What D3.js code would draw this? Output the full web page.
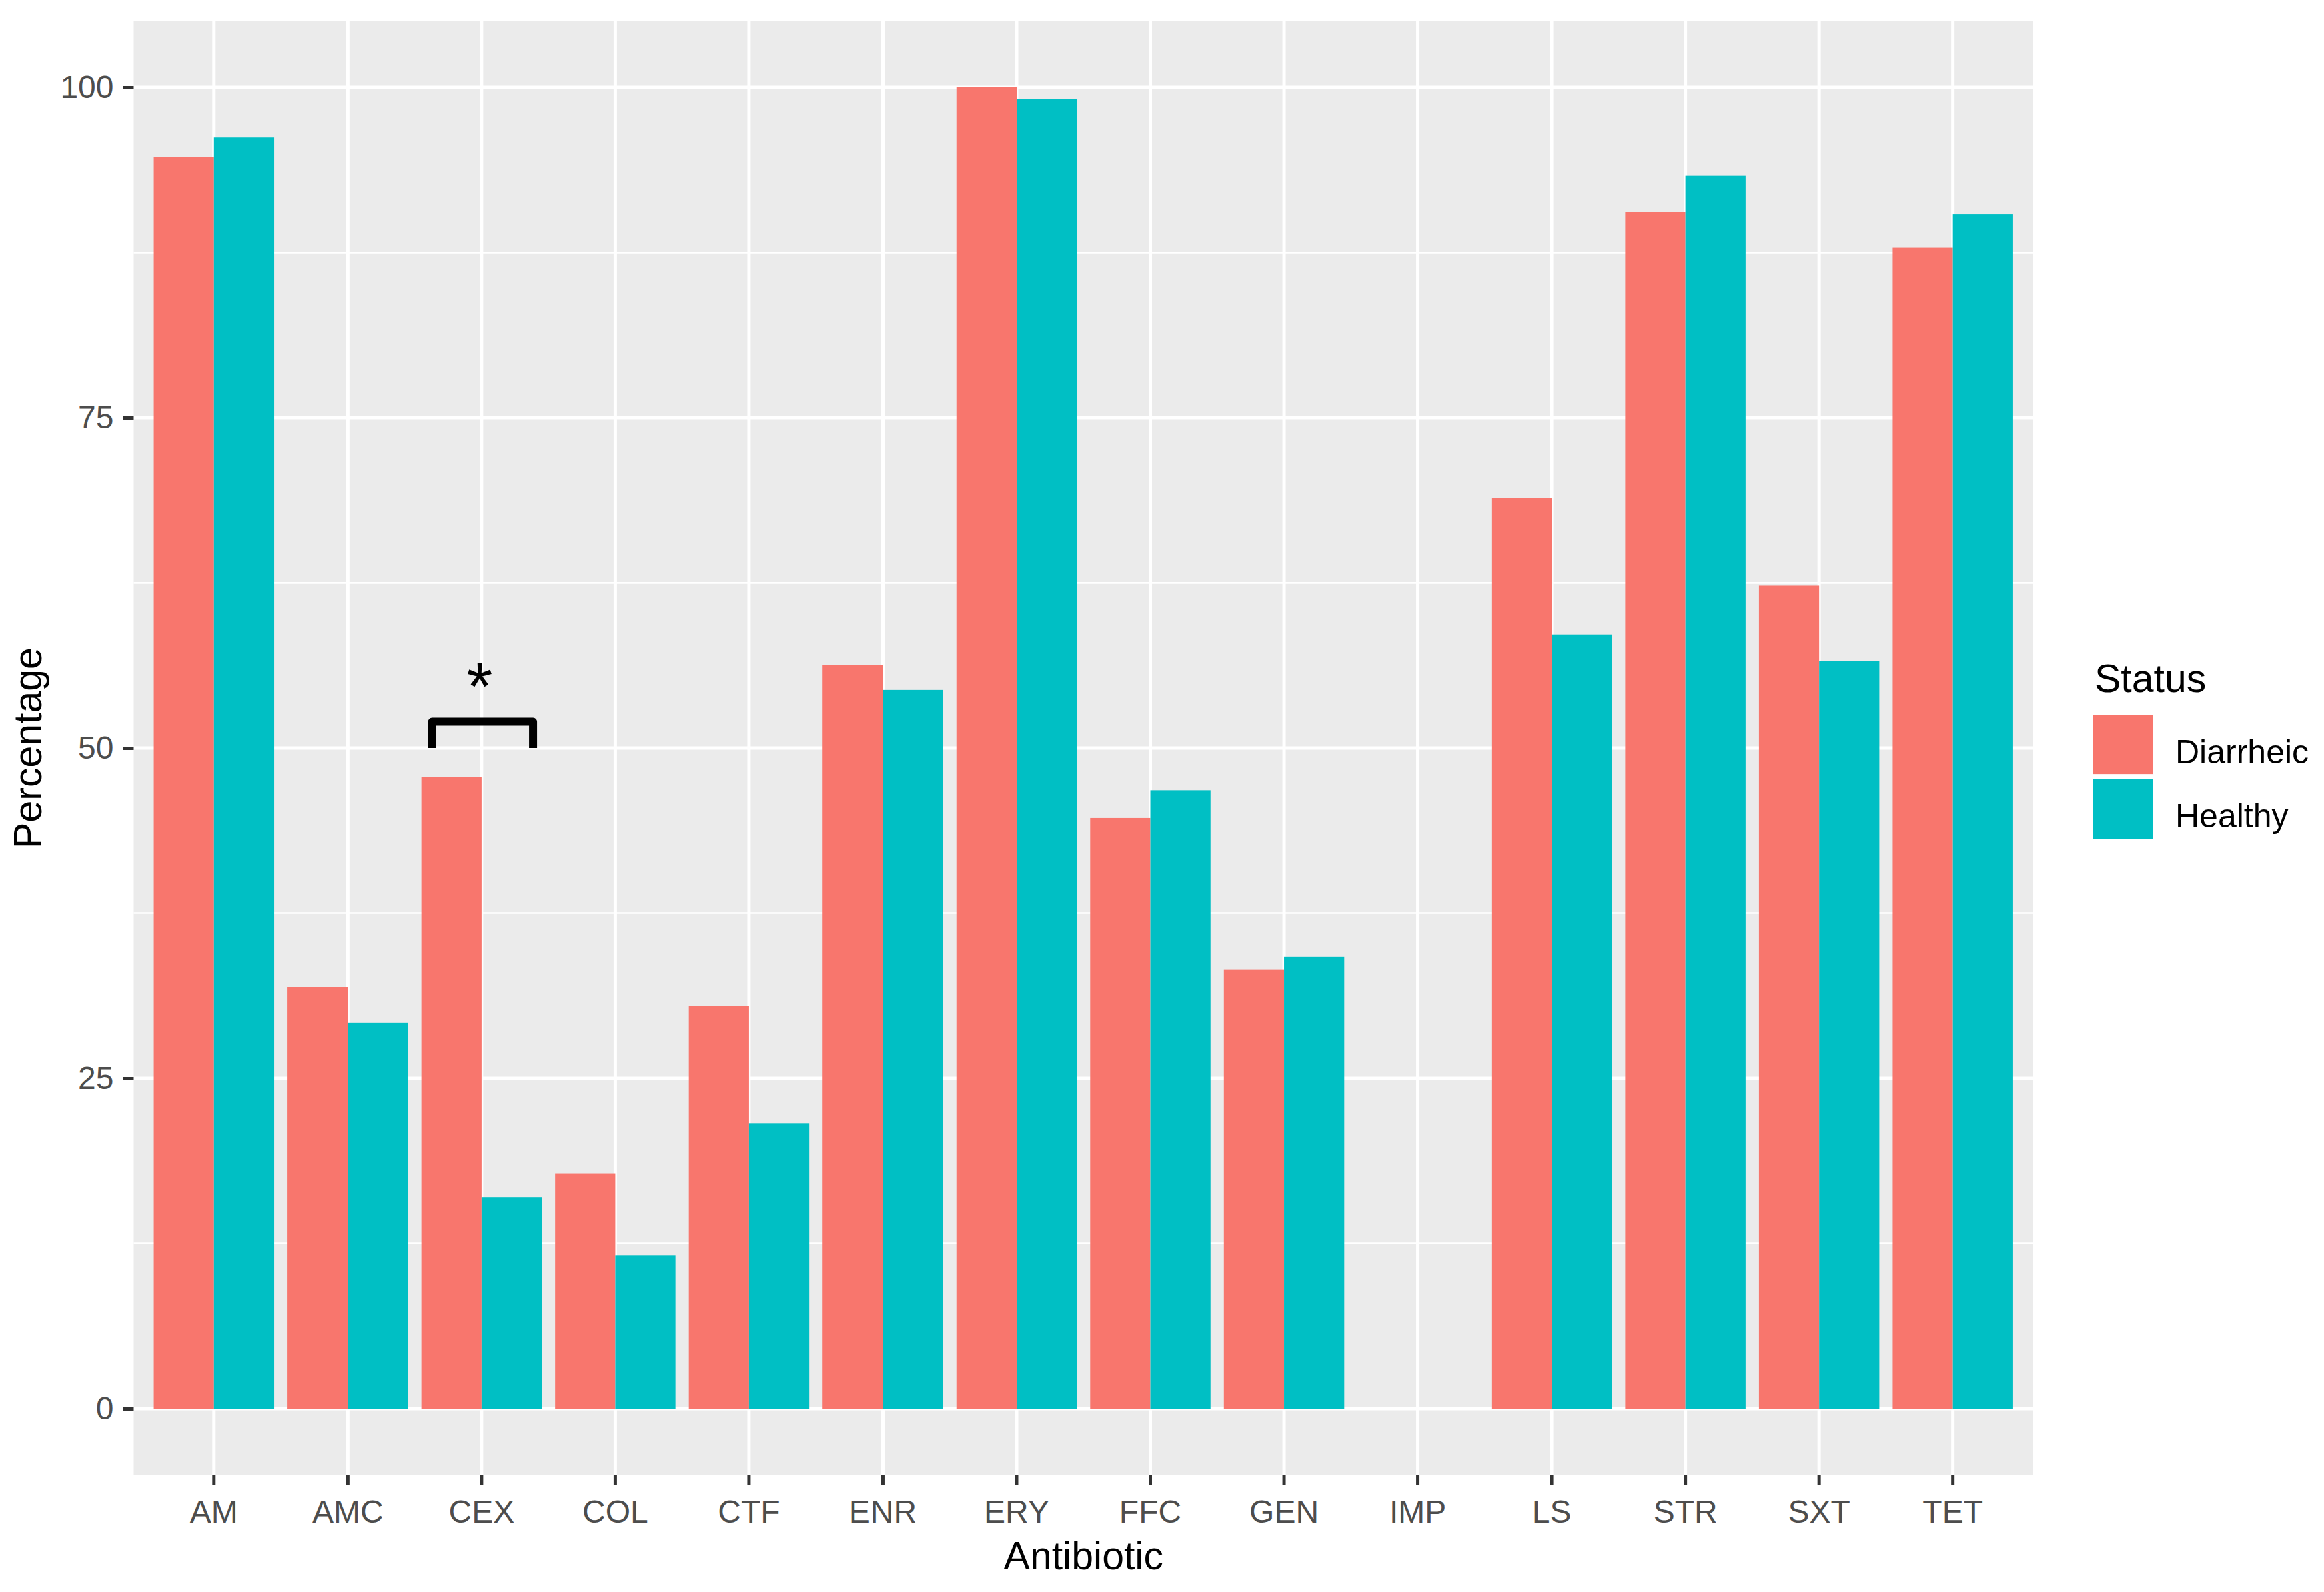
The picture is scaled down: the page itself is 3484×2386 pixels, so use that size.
<!DOCTYPE html>
<html>
<head>
<meta charset="utf-8">
<script src="https://cdn.jsdelivr.net/npm/d3@7"></script>
<style>
  html, body { margin: 0; padding: 0; background: #ffffff; }
  svg { display: block; }
  text { font-family: "Liberation Sans", Arial, Helvetica, sans-serif; }
</style>
</head>
<body>
<svg id="chart" width="3484" height="2386"></svg>
<script>
// ---- data ----
const categories = ["AM","AMC","CEX","COL","CTF","ENR","ERY","FFC","GEN","IMP","LS","STR","SXT","TET"];
const seriesNames = ["Diarrheic","Healthy"];
const diarrheic = [94.7, 31.9, 47.8, 17.8, 30.5, 56.3, 100, 44.7, 33.2, 0, 68.9, 90.6, 62.3, 87.9];
const healthy   = [96.2, 29.2, 16.0, 11.6, 21.6, 54.4, 99.1, 46.8, 34.2, 0, 58.6, 93.3, 56.6, 90.4];
const yTicks = [0, 25, 50, 75, 100];
const yMinor = [12.5, 37.5, 62.5, 87.5];
const colors = ["#F8766D", "#00BFC4"];
const sigCategory = "CEX";
const sigLabel = "*";
const sigBracket = [50, 52];

// ---- layout ----
const svg = d3.select("#chart");
const panel = { left: 200.5, right: 3048, top: 32, bottom: 2210 };

const x = d3.scaleBand()
  .domain(categories)
  .range([panel.left, panel.right])
  .paddingInner(0)
  .paddingOuter(0.1);
const step = x.bandwidth();
const xSub = d3.scaleBand()
  .domain(seriesNames)
  .range([0.05 * step, 0.95 * step])
  .padding(0);
const y = d3.scaleLinear().domain([-5, 105]).range([panel.bottom, panel.top]);
const color = d3.scaleOrdinal().domain(seriesNames).range(colors);

const rows = categories.map((c, i) => ({ cat: c, values: [
  { s: seriesNames[0], v: diarrheic[i] },
  { s: seriesNames[1], v: healthy[i] }
]}));

// panel background
svg.append("rect")
  .attr("x", panel.left).attr("y", panel.top)
  .attr("width", panel.right - panel.left)
  .attr("height", panel.bottom - panel.top)
  .attr("fill", "#EBEBEB");

// minor gridlines
svg.append("g").selectAll("line").data(yMinor).join("line")
  .attr("x1", panel.left).attr("x2", panel.right)
  .attr("y1", d => y(d)).attr("y2", d => y(d))
  .attr("stroke", "#ffffff").attr("stroke-width", 2.6);

// major gridlines
svg.append("g").selectAll("line").data(yTicks).join("line")
  .attr("x1", panel.left).attr("x2", panel.right)
  .attr("y1", d => y(d)).attr("y2", d => y(d))
  .attr("stroke", "#ffffff").attr("stroke-width", 5);
svg.append("g").selectAll("line").data(categories).join("line")
  .attr("x1", d => x(d) + step / 2).attr("x2", d => x(d) + step / 2)
  .attr("y1", panel.top).attr("y2", panel.bottom)
  .attr("stroke", "#ffffff").attr("stroke-width", 5);

// bars
const groups = svg.append("g").selectAll("g").data(rows).join("g")
  .attr("transform", d => `translate(${x(d.cat)},0)`);
groups.selectAll("rect").data(d => d.values).join("rect")
  .attr("x", d => xSub(d.s))
  .attr("width", xSub.bandwidth())
  .attr("y", d => y(d.v))
  .attr("height", d => y(0) - y(d.v))
  .attr("fill", d => color(d.s));

// axes
const yAxis = svg.append("g")
  .attr("transform", `translate(${panel.left},0)`)
  .call(d3.axisLeft(y).tickValues(yTicks).tickSize(16).tickPadding(14).tickFormat(d3.format("d")));
yAxis.select(".domain").remove();
yAxis.selectAll(".tick line").attr("stroke", "#333333").attr("stroke-width", 5);
yAxis.selectAll(".tick text").attr("fill", "#4D4D4D").attr("font-size", 48)
  .attr("font-family", "Liberation Sans, Arial, sans-serif");

const xAxis = svg.append("g")
  .attr("transform", `translate(0,${panel.bottom})`)
  .call(d3.axisBottom(x).tickSize(16).tickPadding(22));
xAxis.select(".domain").remove();
xAxis.selectAll(".tick line").attr("stroke", "#333333").attr("stroke-width", 5);
xAxis.selectAll(".tick text").attr("fill", "#4D4D4D").attr("font-size", 48)
  .attr("font-family", "Liberation Sans, Arial, sans-serif");

// axis titles
svg.append("text")
  .attr("x", (panel.left + panel.right) / 2).attr("y", 2352)
  .attr("text-anchor", "middle").attr("font-size", 59).attr("fill", "#000")
  .text("Antibiotic");
svg.append("text")
  .attr("transform", `translate(62,${(panel.top + panel.bottom) / 2}) rotate(-90)`)
  .attr("text-anchor", "middle").attr("font-size", 59).attr("fill", "#000")
  .text("Percentage");

// significance annotation
const cx = x(sigCategory) + step / 2;
const bx0 = cx - 0.37 * step, bx1 = cx + 0.385 * step;
svg.append("path")
  .attr("d", `M${bx0},${y(sigBracket[0])} L${bx0},${y(sigBracket[1])} L${bx1},${y(sigBracket[1])} L${bx1},${y(sigBracket[0])}`)
  .attr("fill", "none").attr("stroke", "#000").attr("stroke-width", 12)
  .attr("stroke-linejoin", "round");
svg.append("text")
  .attr("x", cx - 3).attr("y", y(sigBracket[1]) - 18)
  .attr("text-anchor", "middle").attr("font-size", 100).attr("fill", "#000")
  .text(sigLabel);

// legend
const legend = svg.append("g").attr("transform", "translate(3138,0)");
legend.append("text").attr("x", 2).attr("y", 1037)
  .attr("font-size", 59).attr("fill", "#000").text("Status");
const keyY = d3.scaleBand().domain(seriesNames).range([1071, 1257]).paddingInner(0.08);
legend.selectAll("rect.key").data(seriesNames).join("rect")
  .attr("class", "key")
  .attr("x", 0).attr("width", 89)
  .attr("y", d => keyY(d)).attr("height", keyY.bandwidth())
  .attr("fill", d => color(d));
legend.selectAll("text.lab").data(seriesNames).join("text")
  .attr("class", "lab")
  .attr("x", 123).attr("y", d => keyY(d) + keyY.bandwidth() / 2 + 28)
  .attr("font-size", 50).attr("fill", "#000")
  .text(d => d);
</script>
</body>
</html>
